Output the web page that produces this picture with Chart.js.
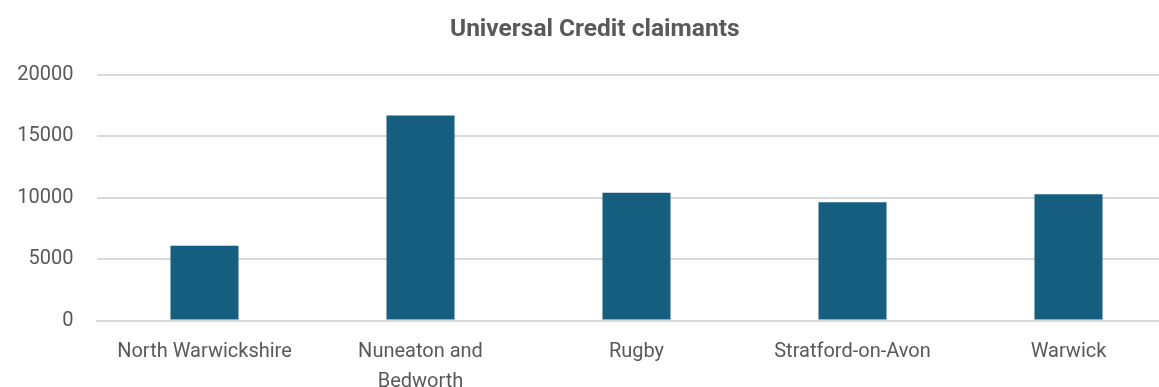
<!DOCTYPE html>
<html>
<head>
<meta charset="utf-8">
<script src="https://cdn.jsdelivr.net/npm/chart.js@4/dist/chart.umd.min.js"></script>
<style>
  html, body { margin: 0; padding: 0; background: #fff; overflow: hidden; }
  #wrap { width: 1200px; height: 387px; }
</style>
</head>
<body>
<div id="wrap"><canvas id="ucChart" width="1200" height="387"></canvas></div>
<script>
// ==========================
// Data
// ==========================

const districts = [
  "North Warwickshire",
  ["Nuneaton and", "Bedworth"],
  "Rugby",
  "Stratford-on-Avon",
  "Warwick",
];
const claimants = [6090, 16710, 10410, 9630, 10280];
const yTicks = [0, 5000, 10000, 15000, 20000];

const textColor = "#595959";
const gridColor = "#d9d9d9";

// ==========================
// Chart
// ==========================

new Chart(document.getElementById("ucChart"), {
  type: "bar",
  data: {
    labels: districts,
    datasets: [
      {
        label: "Universal Credit claimants",
        data: claimants,
        backgroundColor: "#165e80",
        borderWidth: 0,
        barPercentage: 0.315,
        categoryPercentage: 1,
      },
    ],
  },
  options: {
    responsive: false,
    animation: false,
    layout: { padding: { left: 13, right: 23.5, top: 0, bottom: 0 } },
    plugins: {
      legend: { display: false },
      tooltip: { enabled: false },
      title: {
        display: true,
        text: "Universal Credit claimants",
        color: textColor,
        font: { family: "Roboto", size: 24.5, weight: "bold", lineHeight: 1.2 },
        padding: { top: 15, bottom: 30.6 },
      },
    },
    scales: {
      x: {
        grid: { display: false, drawTicks: false },
        border: { color: gridColor, width: 2 },
        ticks: {
          color: textColor,
          font: { family: "Roboto", size: 20, lineHeight: 1.5 },
          padding: 16,
          maxRotation: 0,
          autoSkip: false,
        },
        afterFit: (scale) => {
          scale.height = 66.5;
        },
      },
      y: {
        min: 0,
        max: 20000,
        afterBuildTicks: (scale) => {
          scale.ticks = yTicks.map((v) => ({ value: v }));
        },
        grid: { color: gridColor, lineWidth: 2, drawTicks: false },
        border: { display: false },
        ticks: {
          color: textColor,
          font: { family: "Roboto", size: 20 },
          padding: 23,
          callback: (v) => String(v),
        },
        afterFit: (scale) => {
          scale.width = 83.5;
        },
      },
    },
  },
});
</script>
</body>
</html>
